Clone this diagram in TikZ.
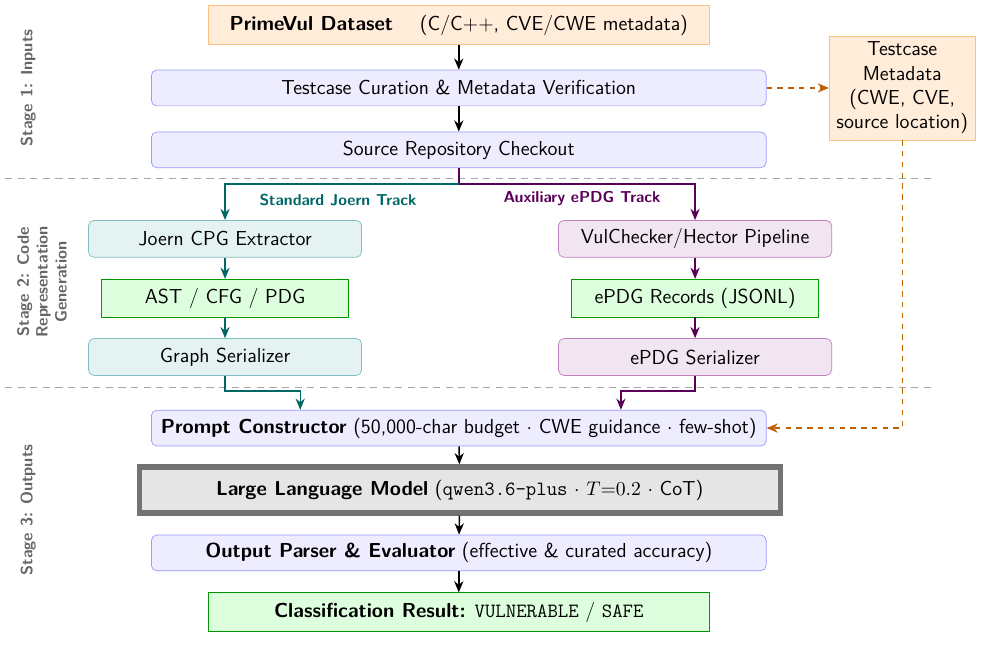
\documentclass[tikz,border=0pt]{standalone}
\usepackage{tikz}
\usetikzlibrary{arrows.meta}

\tikzset{
    every node/.style={font=\sffamily\fontsize{11.25}{13.5}\selectfont},
    procbox/.style={draw=blue!40, fill=blue!7, rounded corners=3pt, minimum width=12.02cm, minimum height=0.70cm},
    srcbox/.style={draw=orange!50, fill=orange!15, minimum width=9.78cm, minimum height=0.76cm},
    joernbox/.style={draw=teal!50, fill=teal!10, rounded corners=3pt, minimum width=5.34cm, minimum height=0.72cm},
    epdgbox/.style={draw=violet!50, fill=violet!10, rounded corners=3pt, minimum width=5.34cm, minimum height=0.72cm},
    databox/.style={draw=green!60!black, fill=green!13, minimum width=4.83cm, minimum height=0.74cm},
    llmbox/.style={draw=black!55, fill=black!10, line width=3pt, minimum width=12.53cm, minimum height=0.90cm},
    stagelabel/.style={font=\sffamily\fontsize{9.1}{10.5}\selectfont\bfseries, text=black!60, rotate=90, align=center},
    tracklabel/.style={font=\sffamily\fontsize{8.8}{10.5}\selectfont\bfseries},
    sep/.style={draw=black!35, dashed, dash pattern=on 4pt off 3pt},
    flow/.style={-{Stealth[length=2.2mm, width=1.8mm]}, thick},
    joernflow/.style={flow, draw=teal!80!black},
    epdgflow/.style={flow, draw=violet!70!black},
    metaflow/.style={flow, draw=orange!75!black, dashed}
}

\begin{document}
\begin{tikzpicture}
    \useasboundingbox (0,0) rectangle (19.2,-12.83);

    % Stage separators
    \draw[sep] (0.1,-3.48) -- (18.22,-3.48);
    \draw[sep] (0.1,-7.57) -- (18.22,-7.57);

    % Stage labels
    \node[stagelabel] (st1) at (0.55,-1.72) {Stage 1: Inputs};
    \node[stagelabel] (st2) at (0.82,-5.51) {Stage 2: Code\\Representation\\Generation};
    \node[stagelabel] (st3) at (0.55,-9.97) {Stage 3: Outputs};

    % Stage 1
    \node[srcbox] (prime) at (8.97,-0.49) {\textbf{PrimeVul Dataset} \quad (C/C++, CVE/CWE metadata)};
    \node[procbox] (cur) at (8.97,-1.72) {Testcase Curation \& Metadata Verification};
    \node[procbox] (chk) at (8.97,-2.93) {Source Repository Checkout};
    \node[srcbox, minimum width=2.85cm, minimum height=1.96cm, align=center] (meta) at (17.64,-1.72)
        {Testcase\\Metadata\\(CWE, CVE,\\source location)};

    % Stage 2
    \node[joernbox] (joern) at (4.40,-4.67) {Joern CPG Extractor};
    \node[databox] (ast) at (4.40,-5.83) {AST / CFG / PDG};
    \node[joernbox] (gser) at (4.40,-6.98) {Graph Serializer};

    \node[epdgbox] (vul) at (13.59,-4.67) {VulChecker/Hector Pipeline};
    \node[databox] (erec) at (13.59,-5.83) {ePDG Records (JSONL)};
    \node[epdgbox] (eser) at (13.59,-6.98) {ePDG Serializer};

    \node[tracklabel, text=teal!80!black] (jlab) at (6.61,-3.91) {Standard Joern Track};
    \node[tracklabel, text=violet!70!black] (elab) at (11.38,-3.89) {Auxiliary ePDG Track};

    % Stage 3
    \node[procbox] (prompt) at (8.97,-8.37) {\textbf{Prompt Constructor} (50,000-char budget $\cdot$ CWE guidance $\cdot$ few-shot)};
    \node[llmbox] (llm) at (8.99,-9.58) {\textbf{Large Language Model} (\texttt{qwen3.6-plus} $\cdot$ $T{=}0.2$ $\cdot$ CoT)};
    \node[procbox] (parse) at (8.97,-10.81) {\textbf{Output Parser \& Evaluator} (effective \& curated accuracy)};
    \node[databox, minimum width=9.78cm, minimum height=0.76cm] (res) at (8.97,-11.97)
        {\textbf{Classification Result:} \texttt{VULNERABLE} / \texttt{SAFE}};

    \coordinate (split) at (8.97,-3.60);

    % Connectors
    \draw[flow] (prime) -- (cur);
    \draw[flow] (cur) -- (chk);
    \draw[metaflow] (cur) -- (meta);
    \draw[metaflow] (meta.south) |- (prompt.east);

    \draw[epdgflow] (chk.south) -- (split) -| (vul.north);
    \draw[joernflow] (split) -| (joern.north);

    \draw[joernflow] (joern) -- (ast);
    \draw[joernflow] (ast) -- (gser);
    \draw[epdgflow] (vul) -- (erec);
    \draw[epdgflow] (erec) -- (eser);

    \draw[joernflow] (gser.south) -- ++(0,-0.30) -| ([xshift=-3.10cm]prompt.north);
    \draw[epdgflow] (eser.south) -- ++(0,-0.30) -| ([xshift=3.17cm]prompt.north);

    \draw[flow] (prompt) -- (llm);
    \draw[flow] (llm) -- (parse);
    \draw[flow] (parse) -- (res);
\end{tikzpicture}
\end{document}
